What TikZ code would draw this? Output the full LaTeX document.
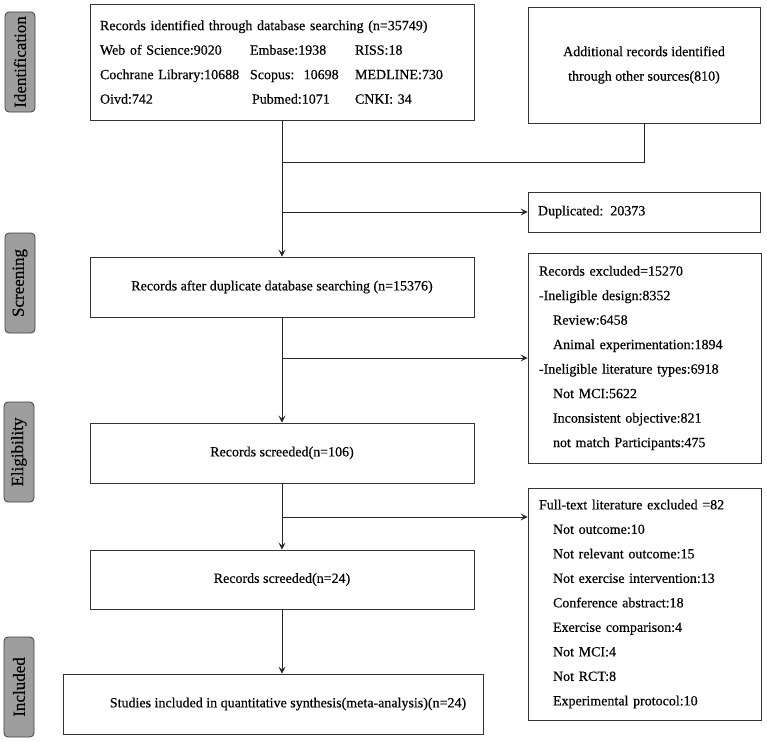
\documentclass[tikz,border=0pt]{standalone}
\usepackage{fontspec}
\setmainfont{Liberation Serif}[FakeBold=0.4]
\usetikzlibrary{arrows.meta,positioning}

\tikzset{
  box/.style={rectangle, draw=black!80, line width=0.9pt, inner ysep=0pt,
    inner xsep=10pt, font=\fontsize{14}{24.5}\selectfont},
  stage/.style={rectangle, rounded corners=4pt, draw=black!75, fill=black!38,
    line width=0.8pt, rotate=90, minimum width=100pt, minimum height=30pt,
    inner sep=0pt, font=\fontsize{17}{20}\selectfont},
  link/.style={draw=black!85, line width=0.9pt},
  arr/.style={link, -{Stealth[length=7pt,width=7pt,inset=3pt]}},
}
\newcommand{\ind}{\hspace*{14pt}}

\begin{document}
\begin{tikzpicture}[x=1pt, y=-1pt]
  \useasboundingbox[fill=white] (0,0) rectangle (767,741);

  % stages on the left
  \node[stage] (sIdent) at (20,62)  {Identification};
  \node[stage] (sScreen) at (20,283) {Screening};
  \node[stage] (sElig) at (19,452) {Eligibility};
  \node[stage] (sIncl) at (19,687) {Included};

  % main column
  \node[box, minimum width=384pt, minimum height=116pt, text width=364pt, align=left]
    (ident) at (282,62) {%
    \begin{tabular}{@{}p{150pt}@{}p{105pt}@{}l@{}}
      \multicolumn{3}{@{}l@{}}{Records identified through database searching (n=35749)}\\
      Web of Science:9020 & Embase:1938 & RISS:18\\
      Cochrane Library:10688 & Scopus:\ \ 10698 & MEDLINE:730\\
      Oivd:742 & \hspace*{2pt}Pubmed:1071 & CNKI: 34
    \end{tabular}};
  \node[box, minimum width=384pt, minimum height=60pt] (after) at (282,287)
    {Records after duplicate database searching (n=15376)};
  \node[box, minimum width=384pt, minimum height=60pt] (screen) at (282,453)
    {Records screeded(n=106)};
  \node[box, minimum width=384pt, minimum height=59pt] (screen2) at (282,579.5)
    {Records screeded(n=24)};
  \node[box, minimum width=420pt, minimum height=60pt] (incl) at (273,704)
    {\hspace*{30pt}Studies included in quantitative synthesis(meta-analysis)(n=24)};

  % right column
  \node[box, minimum width=232pt, minimum height=116pt, align=center] (other) at (644,65)
    {Additional records identified\\through other sources(810)};
  \node[box, minimum width=232pt, minimum height=40pt, text width=212pt, align=left]
    (dup) at (644,212) {Duplicated: 20373};
  \node[box, minimum width=233pt, minimum height=210pt, text width=211pt, align=left]
    (excl) at (644.5,358) {Records excluded=15270\\
      -Ineligible design:8352\\
      \ind Review:6458\\
      \ind Animal experimentation:1894\\
      -Ineligible literature types:6918\\
      \ind Not MCI:5622\\
      \ind Inconsistent objective:821\\
      \ind not match Participants:475};
  \node[box, minimum width=233pt, minimum height=232pt, text width=211pt, align=left]
    (full) at (644.5,604) {Full-text literature excluded =82\\
      \ind Not outcome:10\\
      \ind Not relevant outcome:15\\
      \ind Not exercise intervention:13\\
      \ind Conference abstract:18\\
      \ind Exercise comparison:4\\
      \ind Not MCI:4\\
      \ind Not RCT:8\\
      \ind Experimental protocol:10};

  % connectors
  \coordinate (merge) at (283,162);
  \coordinate (elig) at (283,517);
  \draw[link] (other.south) |- (merge);
  \draw[arr] (ident.south) -- (after.north);
  \draw[arr] (ident.south |- dup.west) -- (dup.west);
  \draw[arr] (after.south) -- (screen.north);
  \draw[arr] (after.south |- excl.west) -- (excl.west);
  \draw[arr] (screen.south) -- (screen2.north);
  \draw[arr] (elig) -- (elig -| full.west);
  \draw[arr] (screen2.south) -- (screen2.south |- incl.north);
\end{tikzpicture}
\end{document}
